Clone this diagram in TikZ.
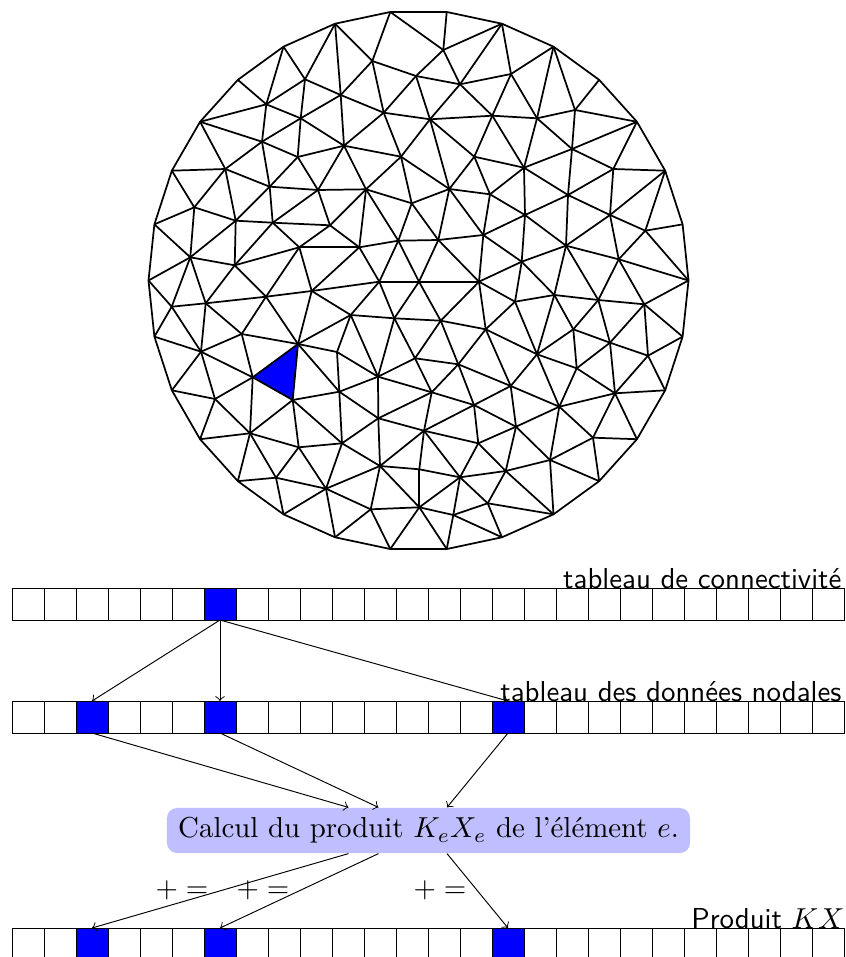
\documentclass[tikz,border=0pt]{standalone}
\usepackage{amsmath}
\usetikzlibrary{calc}

\begin{document}
\begin{tikzpicture}[
    x=0.3464pt,
    y=-0.3464pt,
    meshline/.style={semithick, line join=round},
    cell/.style={
        rectangle,
        draw,
        line width=0.33pt,
        inner sep=0pt,
        outer sep=0pt,
        minimum size=11.08pt
    },
    hotcell/.style={cell, fill=blue},
    tablename/.style={anchor=base east, inner sep=0pt, font=\sffamily},
    plusequal/.style={inner sep=0pt},
    calcbox/.style={
        rectangle,
        fill=blue!25,
        rounded corners=3.5pt,
        inner sep=0pt,
        minimum width=181.2pt,
        minimum height=15.6pt
    },
    arrow/.style={->, line width=0.33pt}
]
\useasboundingbox (0,0) rectangle (845,957);

% Boundary of the disc
\foreach \i in {0,...,29}
    \coordinate (r\i) at ({418.5+270*cos(12*\i)},{280.5-270*sin(12*\i)});

% Inner points of the mesh
\foreach \name/\x/\y in {
    a1/372.3/61, a2/416/76, a3/305/79.3, a4/340.7/95, a5/266.3/104.3,
    a6/383.7/112.7, a7/300.7/118.3, a8/262/141.7, a9/344/145.7, a10/297.7/157,
    a11/401/156.7, a12/225.3/169, a13/269.7/186.7, a14/318/190, a15/366/189.3,
    a16/411.7/203.3, a17/194.3/207.3, a18/235.7/220.7, a19/272.7/222.7, a20/330/225.3,
    a21/398.3/240.7, a22/299.3/247.3, a23/359.3/247.3, a24/190.3/257.3, a25/234.7/265.3,
    b1/443.3/50, b3/460/84.3, b4/511/74, b5/430/119.3, b6/492.3/115.7,
    b7/537/118.3, b8/575/110, b9/474.3/156.7, b10/572/149, b11/524/167.7,
    b12/613.3/169, b13/449.3/189, b14/490/194.3, b15/568/195, b17/525/215,
    b18/610/215, b19/645.3/230.7, b20/438.3/240, b21/483.3/235, b22/566/245.7,
    b23/521.7/261.7, b24/618.7/259.3,
    c1/171.7/306.7, c2/205.7/303.3, c3/266/296.7, c4/311.7/291, c5/379.3/281.7,
    c6/350.7/315, c7/394.3/318.3, c8/241.7/334, c9/298/344, c10/201/351.7,
    c11/337/352, c12/415/358.3, c13/252.7/377.3, c14/378/376.7, c15/339.3/391.7,
    c16/215/399, c17/292.7/400, c18/378.3/418.3, c19/250/433.3, c20/342/443.3,
    c21/298.7/447.3, c22/380/466, c23/419.3/469.3, c24/276/477.7, c25/326/488.7,
    c26/370.7/509.3, c27/419.3/507.3,
    d1/419/281.7, d2/479/281.7, d3/515/301.7, d4/554.3/295, d5/598.3/300,
    d6/644.3/304.3, d7/440.7/320.7, d8/485.7/329.3, d9/573.3/329.3, d10/610/342.7,
    d11/648/355.7, d12/537/354.3, d14/458.3/364.3, d15/576.7/368.3, d16/510.7/386,
    d17/431.7/392.3, d18/615/393.3, d19/474/405, d20/559.3/406.7, d21/516/426.7,
    d22/424/430.7, d23/593/437.7, d24/478.3/443.3, d25/550/460, d27/460/477.3,
    d28/505.7/471, d29/487.7/503.3, d31/453.3/515}
    \coordinate (\name) at (\x,\y);

% Selected element
\fill[blue] (c9) -- (c13) -- (c17) -- cycle;

% Mesh
\draw[meshline] (r0) \foreach \i in {1,...,29} { -- (r\i) } -- cycle;
\foreach \from/\tolist in {
    r0/{d6,b24,b19}, r1/{b19}, r2/{b19,b18,b12}, r3/{b12,b10,b8}, r4/{b8},
    r5/{b8,b7,b4}, r6/{b4,b3,b1}, r7/{b1}, r8/{b1,a1}, r9/{a1,a3,a4},
    r10/{a3,a5}, r11/{a5}, r12/{a5,a8,a12}, r13/{a12,a17}, r14/{a17,a24},
    r15/{a24,c1}, r16/{c1,c10}, r17/{c10,c16}, r18/{c16,c19}, r19/{c19,c24},
    r20/{c24,c25}, r21/{c25,c26}, r22/{c26,c27}, r23/{c27,d31}, r24/{d31,d29},
    r25/{d29,d28,d25}, r26/{d25,d23}, r27/{d23,d18}, r28/{d18,d11}, r29/{d11,d6},
    a1/{a2,a4,a6}, a2/{a6,b1,b3,b5}, a3/{a4,a5,a7}, a4/{a6,a7,a9}, a5/{a7,a8},
    a6/{a9,a11,b5}, a7/{a8,a9,a10}, a8/{a10,a12,a13}, a9/{a10,a11,a14,a15},
    a10/{a13,a14}, a11/{a15,a16,b5,b13}, a12/{a13,a17,a18}, a13/{a14,a18,a19},
    a14/{a15,a19,a20}, a15/{a16,a20,a21,a23}, a16/{a21,b13,b20}, a17/{a18,a24},
    a18/{a19,a24,a25}, a19/{a20,a22,a25}, a20/{a22,a23}, a21/{a23,b20,c5,d1},
    a22/{a23,a25,c3,c4}, a23/{c4,c5}, a24/{a25,c1,c2}, a25/{c2,c3},
    b1/{b3}, b3/{b4,b5,b6}, b4/{b6,b7}, b5/{b6,b9,b13}, b6/{b7,b9,b11},
    b7/{b8,b10,b11}, b8/{b10}, b9/{b11,b13,b14}, b10/{b11,b12,b15},
    b11/{b14,b15,b17}, b12/{b15,b18}, b13/{b14,b20,b21}, b14/{b17,b21},
    b15/{b17,b18,b22}, b17/{b21,b22,b23}, b18/{b19,b22,b24}, b19/{b24},
    b20/{b21,d1,d2}, b21/{b23,d2}, b22/{b23,b24,d4,d5}, b23/{d2,d3,d4}, b24/{d5,d6},
    c1/{c2,c10}, c2/{c3,c8,c10}, c3/{c4,c8,c9}, c4/{c5,c6,c9}, c5/{c6,c7,d1},
    c6/{c7,c9,c11,c14}, c7/{c12,c14,d1,d7}, c8/{c9,c10,c13}, c9/{c11,c13,c15,c17},
    c10/{c13,c16}, c11/{c14,c15}, c12/{c14,d7,d14,d17}, c13/{c16,c17,c19},
    c14/{c15,c18,d17}, c15/{c17,c18,c20}, c16/{c19}, c17/{c19,c20,c21},
    c18/{c20,c22,d17,d22}, c19/{c21,c24}, c20/{c21,c22,c25}, c21/{c24,c25},
    c22/{c23,c25,c26,c27,d22}, c23/{c27,d22,d27}, c24/{c25}, c25/{c26}, c26/{c27},
    c27/{d27,d31},
    d1/{d2,d7}, d2/{d3,d7,d8}, d3/{d4,d8,d12}, d4/{d5,d9,d12}, d5/{d6,d9,d10},
    d6/{d10,d11}, d7/{d8,d14}, d8/{d12,d14,d16}, d9/{d10,d12,d15}, d10/{d11,d15,d18},
    d11/{d18}, d12/{d15,d16,d20}, d14/{d16,d17,d19}, d15/{d18,d20}, d16/{d19,d20,d21},
    d17/{d19,d22}, d18/{d20,d23}, d19/{d21,d22,d24}, d20/{d21,d23,d25},
    d21/{d24,d25,d28}, d22/{d24,d27}, d23/{d25}, d24/{d27,d28}, d25/{d28},
    d27/{d28,d29,d31}, d28/{d29}, d29/{d31}}
    \foreach \to in \tolist
        \draw[meshline] (\from) -- (\to);

% Connectivity table
\foreach \i in {0,...,5,7,8,...,25}
    \node[cell] (con\i) at (28+32*\i,604) {};
\node[hotcell] (con6) at (28+32*6,604) {};
\node[tablename] (conname) at (842,588) {tableau de connectivité};

% Nodal data table
\foreach \i in {0,1,3,4,5,7,8,...,14,16,17,...,25}
    \node[cell] (nod\i) at (28+32*\i,717) {};
\foreach \i in {2,6,15}
    \node[hotcell] (nod\i) at (28+32*\i,717) {};
\node[tablename] (nodname) at (842,701) {tableau des données nodales};

% Product table
\foreach \i in {0,1,3,4,5,7,8,...,14,16,17,...,25}
    \node[cell] (prod\i) at (28+32*\i,944) {};
\foreach \i in {2,6,15}
    \node[hotcell] (prod\i) at (28+32*\i,944) {};
\node[tablename] (prodname) at (845,928) {Produit $KX$};

% Element computation
\node[calcbox] (calc) at (428.5,830.5) {Calcul du produit $K_eX_e$ de l'élément $e$.};
\coordinate (inA) at ($(calc.north)+(-80,0)$);
\coordinate (inB) at ($(calc.north)+(-50,0)$);
\coordinate (inC) at ($(calc.north)+(18.5,0)$);
\coordinate (outA) at ($(calc.south)+(-80,0)$);
\coordinate (outB) at ($(calc.south)+(-50,0)$);
\coordinate (outC) at ($(calc.south)+(18.5,0)$);

\node[plusequal] (addA) at (182,890) {$+=$};
\node[plusequal] (addB) at (263,890) {$+=$};
\node[plusequal] (addC) at (440,890) {$+=$};

% Connections
\foreach \i in {2,6,15}
    \draw[arrow] (con6.south) -- (nod\i.north);
\draw[arrow] (nod2.south) -- (inA);
\draw[arrow] (nod6.south) -- (inB);
\draw[arrow] (nod15.south) -- (inC);
\draw[arrow] (outA) -- (prod2.north);
\draw[arrow] (outB) -- (prod6.north);
\draw[arrow] (outC) -- (prod15.north);

\end{tikzpicture}
\end{document}
